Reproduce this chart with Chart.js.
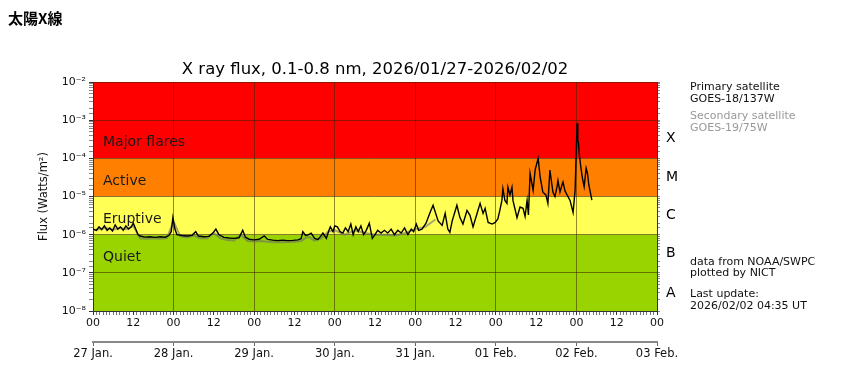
<!DOCTYPE html>
<html><head><meta charset="utf-8">
<script src="https://cdn.jsdelivr.net/npm/chart.js@4/dist/chart.umd.min.js"></script>
<style>html,body{margin:0;padding:0;background:#fff;width:862px;height:374px;overflow:hidden}</style>
</head><body>
<canvas id="c" width="862" height="374"></canvas>
<script>
const pageTitle = '太陽X線';
const chartTitle = 'X ray flux, 0.1-0.8 nm, 2026/01/27-2026/02/02';
const yAxisTitle = 'Flux (Watts/m²)';
const hourLabels = ['00', '12'];
const dateLabels = ['27 Jan.', '28 Jan.', '29 Jan.', '30 Jan.', '31 Jan.', '01 Feb.', '02 Feb.', '03 Feb.'];
const yTickLabels = ['10⁻⁸', '10⁻⁷', '10⁻⁶', '10⁻⁵', '10⁻⁴', '10⁻³', '10⁻²'];
const yExponents = [-8, -7, -6, -5, -4, -3, -2];
const classLetters = ['X', 'M', 'C', 'B', 'A'];
const bandNames = ['Major flares', 'Active', 'Eruptive', 'Quiet'];
const infoPrimary = ['Primary satellite', 'GOES-18/137W'];
const infoSecondary = ['Secondary satellite', 'GOES-19/75W'];
const infoSource = ['data from NOAA/SWPC', 'plotted by NICT'];
const infoUpdate = ['Last update:', '2026/02/02 04:35 UT'];

// hours since 2026-01-27 00 UT
const primaryHours = [0,1,1.8,2.6,3.4,4.2,5,5.8,6.6,7.4,8.2,9,9.8,10.6,11.4,12,12.6,13.4,14,15.5,17,18.5,20,21.5,22.6,23.3,23.8,24.4,25,26.5,28,29.5,30.6,31.4,33,34.5,35.7,36.6,37.5,39,40.5,42,43.5,44.6,45.4,46.5,48,49.5,51,52,53.5,55,56.5,58,59.5,61,62,62.5,63.3,64.2,65,66,67,67.8,68.5,69.5,70.3,70.7,71.5,72,72.8,73.6,74.4,75.2,76,76.8,77.5,78.3,79,79.8,80.6,81.4,82.3,83.2,84,84.8,85.8,86.8,87.8,88.8,89.8,90.8,91.8,92.8,93.8,94.8,95.5,96.3,97,98,99.2,100.4,101.3,102.8,104,104.9,105.7,106.3,107,108.4,109.3,110.2,111.4,112.3,113.2,114.4,115.3,116.2,116.8,117.7,118.9,119.8,120.6,121.2,121.8,122.1,122.7,123.3,123.6,124.2,124.8,125.1,126.3,127.2,128.1,128.7,129.3,129.7,130.2,131.1,131.7,132.6,133.2,134,134.9,135.5,136.1,137,137.6,138.2,138.5,139.1,139.7,140,140.6,141.2,142.1,142.7,143,143.6,144.2,144.4,144.6,144.9,145.3,145.8,146.3,146.9,147.3,147.7,148.2,148.6];
const primaryFlux = [1.4e-6,1.3e-6,1.6e-6,1.35e-6,1.7e-6,1.3e-6,1.5e-6,1.25e-6,1.8e-6,1.4e-6,1.6e-6,1.3e-6,1.7e-6,1.4e-6,1.6e-6,2.0e-6,1.5e-6,1.0e-6,9.2e-7,8.6e-7,8.8e-7,8.5e-7,8.8e-7,8.6e-7,9.5e-7,1.2e-6,2.8e-6,1.4e-6,1.0e-6,9.5e-7,9.2e-7,9.6e-7,1.2e-6,9.2e-7,8.8e-7,9e-7,1.1e-6,1.4e-6,1.0e-6,8.5e-7,8.2e-7,8e-7,8.3e-7,1.3e-6,8.6e-7,7.6e-7,7.3e-7,7.6e-7,9.3e-7,7.5e-7,7.2e-7,7e-7,7.2e-7,7e-7,7.1e-7,7.3e-7,7.8e-7,1.2e-6,9.5e-7,1.0e-6,1.1e-6,8e-7,7.5e-7,9e-7,1.1e-6,8e-7,1.3e-6,1.6e-6,1.2e-6,1.7e-6,1.6e-6,1.2e-6,1.1e-6,1.5e-6,1.2e-6,1.9e-6,1.0e-6,1.6e-6,1.2e-6,1.7e-6,1.0e-6,1.3e-6,2.0e-6,8e-7,1.0e-6,1.3e-6,1.1e-6,1.3e-6,1.1e-6,1.4e-6,1.0e-6,1.3e-6,1.1e-6,1.5e-6,1.0e-6,1.4e-6,1.2e-6,1.9e-6,1.3e-6,1.4e-6,2.0e-6,3.8e-6,5.9e-6,2.3e-6,1.75e-6,3.6e-6,1.4e-6,1.15e-6,2.3e-6,5.9e-6,2.8e-6,1.9e-6,4.3e-6,3.2e-6,1.6e-6,3.6e-6,6.6e-6,3.6e-6,4.9e-6,2.1e-6,1.9e-6,2.1e-6,2.6e-6,4.4e-6,7.9e-6,1.6e-5,7.9e-6,6.6e-6,1.75e-5,1.1e-5,1.75e-5,7.9e-6,2.8e-6,5.3e-6,4.9e-6,3.0e-6,7.9e-6,3.3e-6,4.0e-5,1.45e-5,5.0e-5,1.0e-4,3.2e-5,1.3e-5,1.1e-5,6.6e-6,4.9e-5,1.3e-5,1.0e-5,1.75e-5,2.6e-5,1.3e-5,2.0e-5,2.4e-5,1.4e-5,1.1e-5,7.9e-6,4.9e-6,3.8e-6,1.45e-5,8.3e-4,3.0e-4,2.5e-4,1.2e-4,6e-5,3e-5,1.8e-5,5.5e-5,4e-5,2e-5,1.2e-5,8e-6];

const secondaryHours = [0,2,4,6,8,10,12,14,16,18,20,22,24,26,28,30,32,34,36,38,40,42,44,46,48,50,52,54,56,58,60,62,64,66,68,70,72,75,78,81,84,87,90,93,96,99,102];
const secondaryFlux = [1.3e-6,1.4e-6,1.5e-6,1.35e-6,1.5e-6,1.4e-6,1.7e-6,8e-7,7.8e-7,8e-7,7.8e-7,8.2e-7,2.2e-6,9e-7,8.5e-7,9.5e-7,8e-7,8e-7,1.1e-6,8e-7,7.2e-7,7e-7,1.0e-6,6.8e-7,6.6e-7,6.8e-7,6.5e-7,6.3e-7,6.3e-7,6.4e-7,6.5e-7,6.8e-7,9e-7,7e-7,8e-7,1.2e-6,1.3e-6,1.0e-6,1.3e-6,1.1e-6,1.0e-6,1.0e-6,9.5e-7,1.1e-6,1.4e-6,1.6e-6,2.5e-6];

const bands = [
  {lo: 1e-4, hi: 1e-2, color: '#ff0000'},
  {lo: 1e-5, hi: 1e-4, color: '#ff8000'},
  {lo: 1e-6, hi: 1e-5, color: '#ffff55'},
  {lo: 1e-8, hi: 1e-6, color: '#99d400'}
];

const isPow10 = v => { const l = Math.log10(v); return Math.abs(l - Math.round(l)) < 1e-6; };
const FONT = "'DejaVu Sans', sans-serif";

const decor = {
  id: 'decor',
  beforeDraw(chart) {
    const {ctx, chartArea: a, scales} = chart;
    const y = scales.y;
    ctx.save();
    bands.forEach(b => {
      const t = y.getPixelForValue(b.hi), bt = y.getPixelForValue(b.lo);
      ctx.fillStyle = b.color;
      ctx.fillRect(a.left, t, a.right - a.left, bt - t);
    });
    ctx.restore();
  },
  afterDraw(chart) {
    const {ctx, chartArea: a, scales} = chart;
    const y = scales.y;
    ctx.save();
    ctx.textBaseline = 'middle';
    ctx.fillStyle = '#000';
    ctx.font = "bold 15px 'Noto Sans CJK JP', sans-serif";
    ctx.textAlign = 'left';
    ctx.fillText(pageTitle, 8, 18);
    ctx.font = '16.5px ' + FONT;
    ctx.textAlign = 'center';
    ctx.fillText(chartTitle, (a.left + a.right) / 2, 70);
    // y axis title
    ctx.save();
    ctx.translate(44, (a.top + a.bottom) / 2);
    ctx.rotate(-Math.PI / 2);
    ctx.font = '11.5px ' + FONT;
    ctx.fillStyle = '#111';
    ctx.fillText(yAxisTitle, 0, 0);
    ctx.restore();
    // band names
    ctx.font = '14px ' + FONT;
    ctx.textAlign = 'left';
    ctx.fillStyle = '#1a1a1a';
    const bandPos = [-3.58, -4.6, -5.6, -6.6];
    bandNames.forEach((n, i) => ctx.fillText(n, a.left + 10, y.getPixelForValue(Math.pow(10, bandPos[i]))));
    // class letters
    ctx.font = '14px ' + FONT;
    ctx.fillStyle = '#000';
    const letterPos = [-3.47, -4.5, -5.5, -6.5, -7.55];
    classLetters.forEach((n, i) => ctx.fillText(n, a.right + 9, y.getPixelForValue(Math.pow(10, letterPos[i]))));
    // info text
    ctx.font = '11px ' + FONT;
    const ix = 690;
    ctx.fillStyle = '#111';
    ctx.fillText(infoPrimary[0], ix, 87); ctx.fillText(infoPrimary[1], ix, 99);
    ctx.fillStyle = '#999';
    ctx.fillText(infoSecondary[0], ix, 116); ctx.fillText(infoSecondary[1], ix, 128);
    ctx.fillStyle = '#111';
    ctx.fillText(infoSource[0], ix, 262); ctx.fillText(infoSource[1], ix, 273);
    ctx.fillText(infoUpdate[0], ix, 294); ctx.fillText(infoUpdate[1], ix, 306);
    ctx.restore();
  }
};

new Chart(document.getElementById('c'), {
  type: 'line',
  data: {
    datasets: [
      {
        label: 'GOES-18',
        data: primaryHours.map((h, i) => ({x: h, y: primaryFlux[i]})),
        borderColor: '#000', borderWidth: 1.4, pointRadius: 0, tension: 0, xAxisID: 'x', yAxisID: 'y', order: 1
      },
      {
        label: 'GOES-19',
        data: secondaryHours.map((h, i) => ({x: h, y: secondaryFlux[i]})),
        borderColor: 'rgba(110,110,110,0.6)', borderWidth: 2, pointRadius: 0, tension: 0, xAxisID: 'x', yAxisID: 'y', order: 2
      }
    ]
  },
  options: {
    responsive: false, animation: false, devicePixelRatio: 1,
    layout: {padding: {top: 82, right: 195, bottom: 0, left: 0}},
    plugins: {legend: {display: false}, tooltip: {enabled: false}, title: {display: false}},
    scales: {
      x: {
        type: 'linear', position: 'bottom', min: 0, max: 168,
        afterBuildTicks: s => { const t = []; for (let h = 0; h <= 168; h += 1) t.push({value: h}); s.ticks = t; },
        afterFit: s => { s.height = 31; },
        ticks: {
          autoSkip: false, maxRotation: 0, padding: 2, color: '#111', font: {family: FONT, size: 11},
          callback: v => (v % 12 === 0) ? hourLabels[(v / 12) % 2] : ''
        },
        grid: {
          color: c => (c.tick && c.tick.value % 24 === 0) ? 'rgba(60,40,0,0.55)' : 'rgba(0,0,0,0)',
          tickColor: c => (c.tick && c.tick.value % 12 === 0) ? '#333' : '#777',
          tickLength: 4, lineWidth: 1
        },
        border: {color: '#333', width: 1}
      },
      xd: {
        type: 'linear', position: 'bottom', min: 0, max: 168,
        afterBuildTicks: s => { s.ticks = dateLabels.map((d, i) => ({value: i * 24})); },
        afterFit: s => { s.height = 32; },
        ticks: {
          autoSkip: false, maxRotation: 0, padding: 1, color: '#111', font: {family: FONT, size: 11.5},
          callback: v => dateLabels[v / 24]
        },
        grid: {drawOnChartArea: false, tickColor: '#666', tickLength: 4},
        border: {color: '#888', width: 2}
      },
      y: {
        type: 'logarithmic', position: 'left', min: 1e-8, max: 1e-2,
        afterFit: s => { s.width = 93; },
        ticks: {
          autoSkip: false, padding: 3, color: '#111', font: {family: FONT, size: 11},
          callback: v => isPow10(v) ? yTickLabels[yExponents.indexOf(Math.round(Math.log10(v)))] : ''
        },
        grid: {
          color: c => (c.tick && isPow10(c.tick.value)) ? 'rgba(60,30,0,0.55)' : 'rgba(0,0,0,0)',
          tickColor: c => (c.tick && isPow10(c.tick.value)) ? '#333' : '#888',
          tickLength: 4
        },
        border: {color: '#333', width: 1}
      },
      yr: {
        type: 'logarithmic', position: 'right', min: 1e-8, max: 1e-2,
        afterFit: s => { s.width = 10; },
        ticks: {autoSkip: false, callback: () => ''},
        grid: {drawOnChartArea: false, tickColor: '#888', tickLength: 3},
        border: {color: '#333', width: 1}
      }
    }
  },
  plugins: [decor]
});
</script>
</body></html>
